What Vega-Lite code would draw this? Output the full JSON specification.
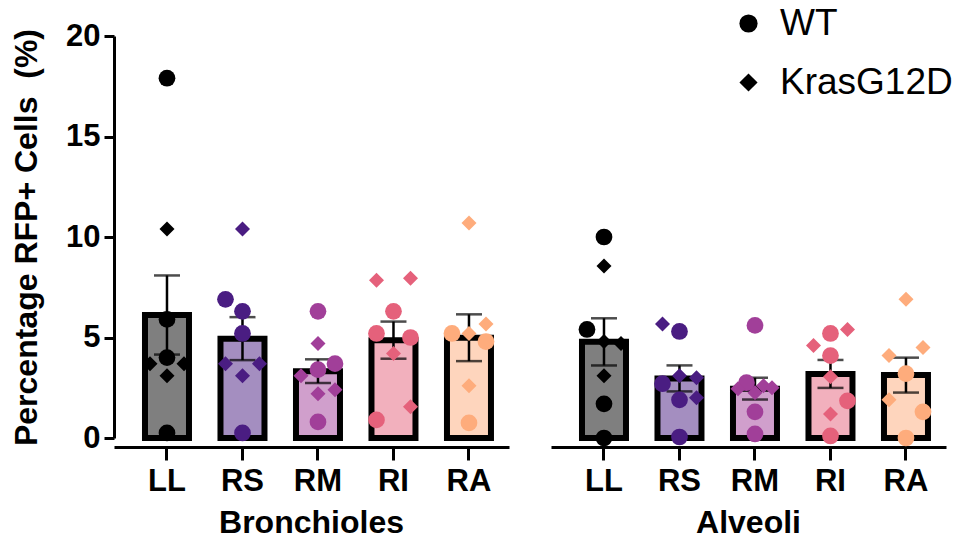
{
  "$schema": "https://vega.github.io/schema/vega-lite/v6.json",
  "background": "white",
  "padding": {"left": 10, "top": 5, "right": 5, "bottom": 5},
  "data": {
    "values": [
      {"area": "Bronchioles", "lobe": "LL", "geno": "WT", "side": "C", "value": 17.9},
      {"area": "Bronchioles", "lobe": "LL", "geno": "KrasG12D", "side": "C", "value": 10.4},
      {"area": "Bronchioles", "lobe": "LL", "geno": "WT", "side": "C", "value": 5.9},
      {"area": "Bronchioles", "lobe": "LL", "geno": "WT", "side": "C", "value": 4.0},
      {"area": "Bronchioles", "lobe": "LL", "geno": "KrasG12D", "side": "L2", "value": 3.7},
      {"area": "Bronchioles", "lobe": "LL", "geno": "KrasG12D", "side": "R2", "value": 3.7},
      {"area": "Bronchioles", "lobe": "LL", "geno": "KrasG12D", "side": "C", "value": 3.1},
      {"area": "Bronchioles", "lobe": "LL", "geno": "WT", "side": "C", "value": 0.25},

      {"area": "Bronchioles", "lobe": "RS", "geno": "KrasG12D", "side": "C", "value": 10.4},
      {"area": "Bronchioles", "lobe": "RS", "geno": "WT", "side": "L2", "value": 6.9},
      {"area": "Bronchioles", "lobe": "RS", "geno": "WT", "side": "C", "value": 6.3},
      {"area": "Bronchioles", "lobe": "RS", "geno": "WT", "side": "C", "value": 5.2},
      {"area": "Bronchioles", "lobe": "RS", "geno": "KrasG12D", "side": "L2", "value": 3.7},
      {"area": "Bronchioles", "lobe": "RS", "geno": "KrasG12D", "side": "R2", "value": 3.7},
      {"area": "Bronchioles", "lobe": "RS", "geno": "KrasG12D", "side": "C", "value": 3.1},
      {"area": "Bronchioles", "lobe": "RS", "geno": "WT", "side": "C", "value": 0.25},

      {"area": "Bronchioles", "lobe": "RM", "geno": "WT", "side": "C", "value": 6.3},
      {"area": "Bronchioles", "lobe": "RM", "geno": "KrasG12D", "side": "C", "value": 4.7},
      {"area": "Bronchioles", "lobe": "RM", "geno": "WT", "side": "R2", "value": 3.7},
      {"area": "Bronchioles", "lobe": "RM", "geno": "WT", "side": "C", "value": 3.4},
      {"area": "Bronchioles", "lobe": "RM", "geno": "KrasG12D", "side": "L2", "value": 3.1},
      {"area": "Bronchioles", "lobe": "RM", "geno": "KrasG12D", "side": "R2", "value": 2.4},
      {"area": "Bronchioles", "lobe": "RM", "geno": "KrasG12D", "side": "C", "value": 2.2},
      {"area": "Bronchioles", "lobe": "RM", "geno": "WT", "side": "C", "value": 0.8},

      {"area": "Bronchioles", "lobe": "RI", "geno": "KrasG12D", "side": "L2", "value": 7.85},
      {"area": "Bronchioles", "lobe": "RI", "geno": "KrasG12D", "side": "R2", "value": 7.95},
      {"area": "Bronchioles", "lobe": "RI", "geno": "WT", "side": "C", "value": 6.3},
      {"area": "Bronchioles", "lobe": "RI", "geno": "WT", "side": "L2", "value": 5.2},
      {"area": "Bronchioles", "lobe": "RI", "geno": "WT", "side": "R2", "value": 5.0},
      {"area": "Bronchioles", "lobe": "RI", "geno": "KrasG12D", "side": "C", "value": 4.2},
      {"area": "Bronchioles", "lobe": "RI", "geno": "KrasG12D", "side": "R2", "value": 1.55},
      {"area": "Bronchioles", "lobe": "RI", "geno": "WT", "side": "L2", "value": 0.9},

      {"area": "Bronchioles", "lobe": "RA", "geno": "KrasG12D", "side": "C", "value": 10.7},
      {"area": "Bronchioles", "lobe": "RA", "geno": "KrasG12D", "side": "R2", "value": 5.67},
      {"area": "Bronchioles", "lobe": "RA", "geno": "WT", "side": "L2", "value": 5.2},
      {"area": "Bronchioles", "lobe": "RA", "geno": "KrasG12D", "side": "C", "value": 5.2},
      {"area": "Bronchioles", "lobe": "RA", "geno": "WT", "side": "R2", "value": 4.8},
      {"area": "Bronchioles", "lobe": "RA", "geno": "KrasG12D", "side": "C", "value": 2.6},
      {"area": "Bronchioles", "lobe": "RA", "geno": "WT", "side": "C", "value": 0.75},

      {"area": "Alveoli", "lobe": "LL", "geno": "WT", "side": "C", "value": 10.0},
      {"area": "Alveoli", "lobe": "LL", "geno": "KrasG12D", "side": "C", "value": 8.56},
      {"area": "Alveoli", "lobe": "LL", "geno": "WT", "side": "L2", "value": 5.4},
      {"area": "Alveoli", "lobe": "LL", "geno": "KrasG12D", "side": "C", "value": 4.8},
      {"area": "Alveoli", "lobe": "LL", "geno": "KrasG12D", "side": "R2", "value": 4.7},
      {"area": "Alveoli", "lobe": "LL", "geno": "KrasG12D", "side": "C", "value": 3.1},
      {"area": "Alveoli", "lobe": "LL", "geno": "WT", "side": "C", "value": 1.7},
      {"area": "Alveoli", "lobe": "LL", "geno": "WT", "side": "C", "value": 0.0},

      {"area": "Alveoli", "lobe": "RS", "geno": "KrasG12D", "side": "L2", "value": 5.67},
      {"area": "Alveoli", "lobe": "RS", "geno": "WT", "side": "C", "value": 5.3},
      {"area": "Alveoli", "lobe": "RS", "geno": "KrasG12D", "side": "C", "value": 3.1},
      {"area": "Alveoli", "lobe": "RS", "geno": "KrasG12D", "side": "R2", "value": 3.0},
      {"area": "Alveoli", "lobe": "RS", "geno": "WT", "side": "L2", "value": 2.7},
      {"area": "Alveoli", "lobe": "RS", "geno": "KrasG12D", "side": "R2", "value": 2.0},
      {"area": "Alveoli", "lobe": "RS", "geno": "WT", "side": "C", "value": 1.9},
      {"area": "Alveoli", "lobe": "RS", "geno": "WT", "side": "C", "value": 0.05},

      {"area": "Alveoli", "lobe": "RM", "geno": "WT", "side": "C", "value": 5.6},
      {"area": "Alveoli", "lobe": "RM", "geno": "WT", "side": "L1", "value": 2.75},
      {"area": "Alveoli", "lobe": "RM", "geno": "KrasG12D", "side": "L2", "value": 2.45},
      {"area": "Alveoli", "lobe": "RM", "geno": "KrasG12D", "side": "C", "value": 2.25},
      {"area": "Alveoli", "lobe": "RM", "geno": "KrasG12D", "side": "R1", "value": 2.6},
      {"area": "Alveoli", "lobe": "RM", "geno": "KrasG12D", "side": "R2", "value": 2.5},
      {"area": "Alveoli", "lobe": "RM", "geno": "WT", "side": "C", "value": 1.3},
      {"area": "Alveoli", "lobe": "RM", "geno": "WT", "side": "C", "value": 0.2},

      {"area": "Alveoli", "lobe": "RI", "geno": "WT", "side": "C", "value": 5.2},
      {"area": "Alveoli", "lobe": "RI", "geno": "KrasG12D", "side": "R2", "value": 5.4},
      {"area": "Alveoli", "lobe": "RI", "geno": "KrasG12D", "side": "L2", "value": 4.6},
      {"area": "Alveoli", "lobe": "RI", "geno": "WT", "side": "C", "value": 4.1},
      {"area": "Alveoli", "lobe": "RI", "geno": "KrasG12D", "side": "C", "value": 3.05},
      {"area": "Alveoli", "lobe": "RI", "geno": "WT", "side": "R2", "value": 1.85},
      {"area": "Alveoli", "lobe": "RI", "geno": "KrasG12D", "side": "C", "value": 1.2},
      {"area": "Alveoli", "lobe": "RI", "geno": "WT", "side": "C", "value": 0.1},

      {"area": "Alveoli", "lobe": "RA", "geno": "KrasG12D", "side": "C", "value": 6.9},
      {"area": "Alveoli", "lobe": "RA", "geno": "KrasG12D", "side": "L2", "value": 4.1},
      {"area": "Alveoli", "lobe": "RA", "geno": "KrasG12D", "side": "R2", "value": 4.5},
      {"area": "Alveoli", "lobe": "RA", "geno": "WT", "side": "C", "value": 3.2},
      {"area": "Alveoli", "lobe": "RA", "geno": "KrasG12D", "side": "L2", "value": 1.9},
      {"area": "Alveoli", "lobe": "RA", "geno": "WT", "side": "R2", "value": 1.3},
      {"area": "Alveoli", "lobe": "RA", "geno": "WT", "side": "C", "value": 0.0}
    ]
  },
  "facet": {
    "column": {
      "field": "area",
      "type": "nominal",
      "sort": ["Bronchioles", "Alveoli"],
      "header": {
        "title": null,
        "labelOrient": "bottom",
        "labelFontSize": 32,
        "labelFontWeight": "bold",
        "labelFont": "Liberation Sans",
        "labelColor": "black",
        "labelPadding": 12
      }
    }
  },
  "spacing": 42,
  "spec": {
    "width": 395,
    "height": 402,
    "layer": [
      {
        "mark": {"type": "bar", "stroke": "black", "strokeWidth": 6, "fillOpacity": 0.5, "width": 44},
        "encoding": {
          "x": {"field": "lobe", "type": "nominal", "sort": ["LL", "RS", "RM", "RI", "RA"],
                "scale": {"paddingInner": 0, "paddingOuter": 0.116, "align": 0.87},
                "axis": {"title": null, "labelAngle": 0}},
          "y": {"aggregate": "mean", "field": "value", "type": "quantitative",
                "title": "Percentage RFP+ Cells \u00a0(%)",
                "scale": {"domain": [0, 20], "nice": false},
                "axis": {"values": [0, 5, 10, 15, 20]}},
          "color": {"field": "lobe", "type": "nominal",
                    "scale": {"domain": ["LL", "RS", "RM", "RI", "RA"],
                              "range": ["#000000", "#4A1D82", "#A13F99", "#E5617B", "#FEAC7C"]},
                    "legend": null}
        }
      },
      {
        "mark": {"type": "errorbar", "extent": "stderr", "color": "black", "thickness": 2.5,
                 "ticks": {"size": 26, "color": "black"}},
        "encoding": {
          "x": {"field": "lobe", "type": "nominal", "sort": ["LL", "RS", "RM", "RI", "RA"], "axis": {"title": null, "labelAngle": 0}},
          "y": {"field": "value", "type": "quantitative", "title": "Percentage RFP+ Cells \u00a0(%)"}
        }
      },
      {
        "mark": {"type": "point", "filled": true, "opacity": 1, "strokeWidth": 0},
        "encoding": {
          "x": {"field": "lobe", "type": "nominal", "sort": ["LL", "RS", "RM", "RI", "RA"], "axis": {"title": null, "labelAngle": 0}},
          "xOffset": {"field": "side", "type": "nominal",
                      "scale": {"type": "point", "domain": ["L2", "L1", "C", "R1", "R2"], "padding": 0, "range": [20.75, 54.75]}},
          "y": {"field": "value", "type": "quantitative", "title": "Percentage RFP+ Cells \u00a0(%)"},
          "color": {"field": "lobe", "type": "nominal", "legend": null},
          "shape": {"field": "geno", "type": "nominal",
                    "scale": {"domain": ["WT", "KrasG12D"], "range": ["circle", "diamond"]},
                    "legend": {
                      "orient": "none", "legendX": 616, "legendY": -31, "title": null,
                      "labelFontSize": 37, "labelFont": "Liberation Sans", "labelColor": "black", "labelLimit": 400,
                      "symbolSize": 330, "labelOffset": 13, "rowPadding": 21,
                      "encode": {"symbols": {"update": {"fill": {"value": "black"}, "stroke": {"value": "black"}, "strokeWidth": {"value": 0}, "opacity": {"value": 1}}}}
                    }},
          "size": {"condition": {"test": "datum.geno === 'WT'", "value": 280}, "value": 225}
        }
      }
    ]
  },
  "config": {
    "font": "Liberation Sans",
    "view": {"stroke": null},
    "axis": {
      "domainColor": "black", "domainWidth": 3, "tickColor": "black", "tickWidth": 3,
      "labelColor": "black", "labelFontWeight": "bold", "labelFontSize": 31, "labelFont": "Liberation Sans",
      "titleFontSize": 32, "titleFontWeight": "bold", "titleColor": "black", "titleFont": "Liberation Sans",
      "grid": false
    },
    "axisX": {"tickSize": 13, "labelPadding": 6},
    "axisY": {"tickSize": 10, "labelPadding": 4, "titlePadding": 22}
  }
}
